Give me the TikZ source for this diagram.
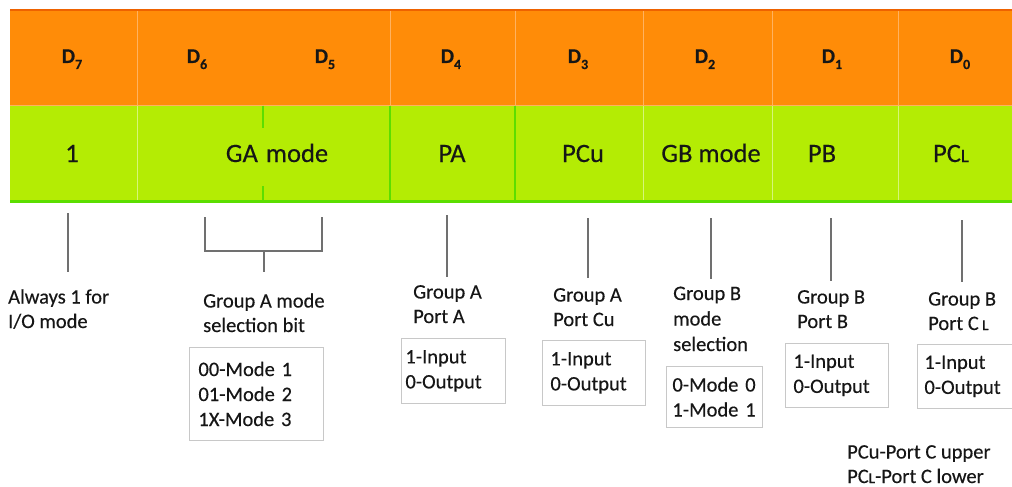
\documentclass[tikz,border=0pt]{standalone}
\usepackage{fontspec}
\setmainfont{Carlito}[FakeBold=0.35]
\definecolor{orangefill}{RGB}{255,140,8}
\definecolor{orangetop}{RGB}{238,98,0}
\definecolor{orangediv}{RGB}{255,178,96}
\definecolor{greenfill}{RGB}{180,236,4}
\definecolor{greenline}{RGB}{92,222,0}
\definecolor{greendiv}{RGB}{214,246,120}
\definecolor{leadgray}{RGB}{112,112,112}
\definecolor{boxgray}{RGB}{200,200,200}
\definecolor{ink}{RGB}{22,22,22}
\newcommand{\myL}[1]{{\fontsize{#1}{#1}\selectfont L}}
\newcommand{\dsub}[1]{D\raisebox{-6pt}{\fontsize{14}{14}\selectfont #1}}
\begin{document}
\begin{tikzpicture}[x=1pt,y=-1pt,
  hdr/.style={font=\bfseries\fontsize{21}{21}\selectfont, text=ink, inner sep=0pt, anchor=base},
  cell/.style={font=\fontsize{26.5}{26.5}\selectfont, text=ink, inner sep=0pt, anchor=base},
  lab/.style={font=\fontsize{20.5}{24.5}\selectfont, text=ink, inner sep=0pt, anchor=base west, align=left},
  valbox/.style={draw=boxgray, line width=0.9pt, anchor=north west, inner ysep=0pt, align=left,
    font=\fontsize{20.5}{25}\selectfont, text=ink},
  lead/.style={draw=leadgray, line width=1.8pt},
]
\useasboundingbox (0,0) rectangle (1012,487);
\clip (0,0) rectangle (1012,487);
% bands
\fill[orangefill] (10,10) rectangle (1014,105);
\fill[greenfill] (10,105) rectangle (1014,201);
\draw[orangetop, line width=2pt] (10,10) -- (1014,10);
\draw[orangediv, line width=0.8pt] (10,105) -- (1014,105);
\draw[greenline, line width=3pt] (10,201) -- (1014,201);
\foreach \x in {137,390,515,643,772,898} \draw[orangediv, line width=1pt] (\x,11) -- (\x,104.5);
\foreach \x in {137,643,772,898} \draw[greendiv, line width=1pt] (\x,105.5) -- (\x,199.5);
\foreach \x in {390,515} \draw[greenline, line width=1.5pt] (\x,105.5) -- (\x,199.5);
\draw[greenline, line width=1.2pt] (263,105.5) -- (263,128) (263,186) -- (263,199.5);
% header cells
\node[hdr] (h7) at (72,63) {\dsub{7}};
\node[hdr] (h6) at (197,63) {\dsub{6}};
\node[hdr] (h5) at (325,63) {\dsub{5}};
\node[hdr] (h4) at (451,63) {\dsub{4}};
\node[hdr] (h3) at (578,63) {\dsub{3}};
\node[hdr] (h2) at (705,63) {\dsub{2}};
\node[hdr] (h1) at (832,63) {\dsub{1}};
\node[hdr] (h0) at (960,63) {\dsub{0}};
% field cells
\node[cell] (g7) at (72,162) {1};
\node[cell] (g65) at (277,162) {GA\hspace{8pt}mode};
\node[cell] (g4) at (452,162) {PA};
\node[cell] (g3) at (583,162) {PCu};
\node[cell] (g2) at (711,162) {GB mode};
\node[cell] (g1) at (822,162) {PB};
\node[cell] (g0) at (951,162) {PC\myL{19}};
% lead lines
\coordinate (t7) at (68,213); \coordinate (e7) at (68,272);
\coordinate (t6) at (205,217); \coordinate (k6) at (205,251);
\coordinate (t5) at (322,217); \coordinate (k5) at (322,251);
\coordinate (m65) at (264,251); \coordinate (e65) at (264,272);
\coordinate (t4) at (447,215); \coordinate (e4) at (447,277);
\coordinate (t3) at (588,218); \coordinate (e3) at (588,278);
\coordinate (t2) at (711,218); \coordinate (e2) at (711,279);
\coordinate (t1) at (831,218); \coordinate (e1) at (831,281);
\coordinate (t0) at (962,220); \coordinate (e0) at (962,282);
\draw[lead] (t7) -- (e7);
\draw[lead] (t6) -- (k6) -- (k5) -- (t5);
\draw[lead] (m65) -- (e65);
\draw[lead] (t4) -- (e4);
\draw[lead] (t3) -- (e3);
\draw[lead] (t2) -- (e2);
\draw[lead] (t1) -- (e1);
\draw[lead] (t0) -- (e0);
% labels (anchored at the baseline of their last line)
\node[lab] (l7) at (8,328) {Always 1 for\\I/O mode};
\node[lab] (l65) at (203,332) {Group A mode\\selection bit};
\node[lab] (l4) at (413,323) {Group A\\Port A};
\node[lab] (l3) at (553,326) {Group A\\Port Cu};
\node[lab, font=\fontsize{20.5}{25.5}\selectfont] (l2) at (673,351) {Group B\\mode\\selection};
\node[lab] (l1) at (797,328) {Group B\\Port B};
\node[lab] (l0) at (928,330) {Group B\\Port C\,\myL{15}};
% value boxes
\node[valbox, inner xsep=9pt, minimum width=134pt, minimum height=93pt, text width=116pt] (b65) at (189,347) {00-Mode 1\\01-Mode 2\\1X-Mode 3};
\node[valbox, inner xsep=4pt, minimum width=104pt, minimum height=65pt, text width=96pt] (b4) at (401,338) {1-Input\\0-Output};
\node[valbox, inner xsep=8pt, minimum width=103pt, minimum height=65pt, text width=87pt] (b3) at (542,340) {1-Input\\0-Output};
\node[valbox, inner xsep=6pt, minimum width=96pt, minimum height=61pt, text width=84pt] (b2) at (666,366) {0-Mode 0\\1-Mode 1};
\node[valbox, inner xsep=8pt, minimum width=103pt, minimum height=64pt, text width=87pt] (b1) at (785,343) {1-Input\\0-Output};
\node[valbox, inner xsep=7pt, minimum width=100pt, minimum height=64pt, text width=86pt] (b0) at (917,344) {1-Input\\0-Output};
% note
\node[lab] (note) at (847,483) {PCu-Port C upper\\PC\myL{15}-Port C lower};
\end{tikzpicture}
\end{document}
